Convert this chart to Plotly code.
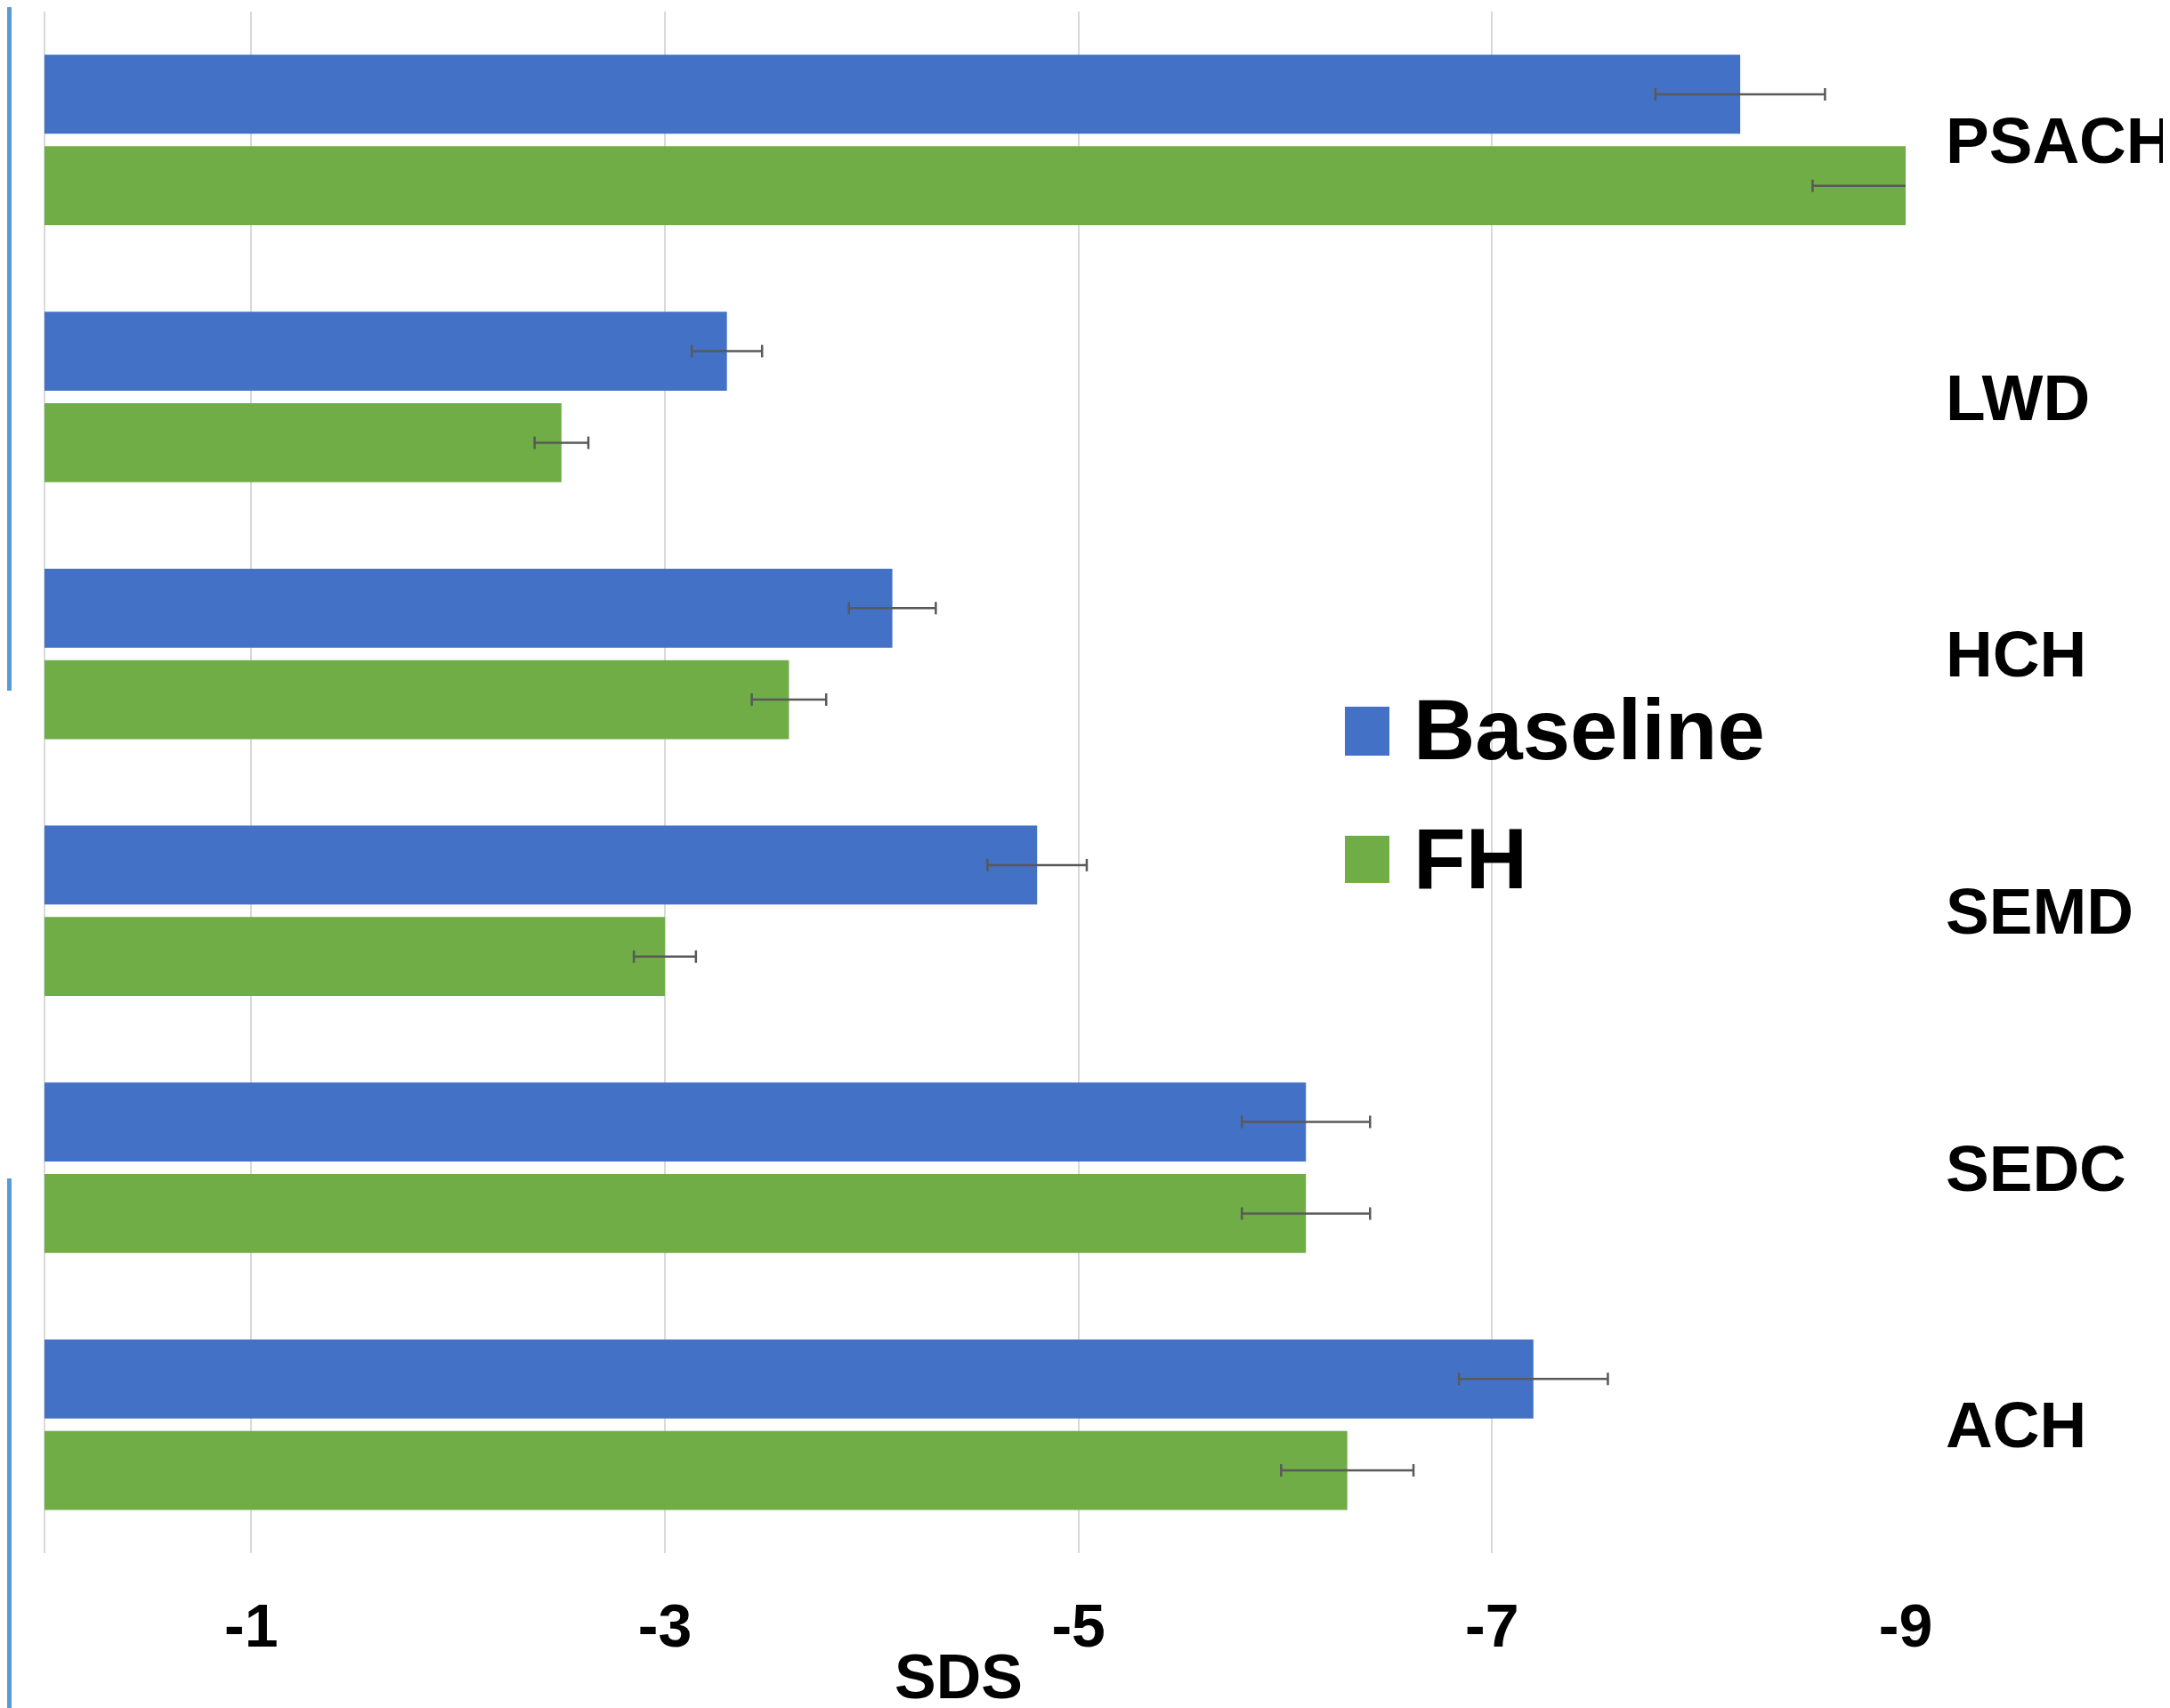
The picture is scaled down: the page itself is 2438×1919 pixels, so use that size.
import plotly.graph_objects as go

# ---- data ----
categories = ["PSACH", "LWD", "HCH", "SEMD", "SEDC", "ACH"]
series_names = ["Baseline", "FH"]
baseline = [-8.2, -3.3, -4.1, -4.8, -6.1, -7.2]
baseline_err = [0.41, 0.17, 0.21, 0.24, 0.31, 0.36]
fh = [-9.0, -2.5, -3.6, -3.0, -6.1, -6.3]
fh_err = [0.45, 0.13, 0.18, 0.15, 0.31, 0.32]
x_tickvals = [-1, -3, -5, -7, -9]
x_ticktext = ["-1", "-3", "-5", "-7", "-9"]

colors = ["#4371C6", "#70AD47"]
FONT = "Liberation Sans, Arial, sans-serif"

OFF = 8  # default page body margin
W, H = 2430, 1911
ML, MR, MT, MB = 42, 297, 5, 174
PW, PH = W - ML - MR, H - MT - MB

def px_x(p):
    return (p - OFF - ML) / PW

def px_y(p):
    return (H - MB - (p - OFF)) / PH

fig = go.Figure()
for name, vals, errs, col in zip(series_names, [baseline, fh], [baseline_err, fh_err], colors):
    fig.add_trace(go.Bar(
        y=categories, x=vals, orientation="h", name=name,
        marker=dict(color=col, line=dict(width=0)),
        error_x=dict(type="data", array=errs, visible=True,
                     color="#595959", thickness=2.5, width=7),
        showlegend=False,
    ))

fig.update_layout(
    width=W, height=H,
    margin=dict(l=ML, r=MR, t=MT, b=MB, autoexpand=False),
    paper_bgcolor="white", plot_bgcolor="white",
    barmode="group", bargap=0.288, bargroupgap=0.136,
    font=dict(family=FONT, color="black"),
)
fig.update_xaxes(
    range=[0, -9], tickvals=x_tickvals, ticktext=x_ticktext,
    showgrid=True, gridcolor="#d9d9d9", gridwidth=2,
    zeroline=True, zerolinecolor="#d9d9d9", zerolinewidth=2,
    showline=False, ticks="", ticklabelstandoff=36, automargin=False,
    tickfont=dict(family=FONT, size=68, weight="bold", color="black"),
)
fig.update_yaxes(
    autorange="reversed", side="right", showgrid=False, zeroline=False,
    showline=False, ticks="", ticklabelstandoff=44, automargin=False,
    tickfont=dict(family=FONT, size=73, weight="bold", color="black"),
)

# axis title
fig.add_annotation(
    text="SDS", xref="x", yref="paper", x=-4.42, y=px_y(1884),
    showarrow=False, xanchor="center", yanchor="middle",
    font=dict(family=FONT, size=70, weight="bold", color="black"),
)

# custom legend (large swatches)
legend_rows = [(794, 849, 819), (939, 992, 964)]
for (y0, y1, yc), name, col in zip(legend_rows, series_names, colors):
    fig.add_shape(type="rect", xref="paper", yref="paper",
                  x0=px_x(1511), x1=px_x(1561), y0=px_y(y1), y1=px_y(y0),
                  fillcolor=col, line=dict(width=0))
    fig.add_annotation(text=name, xref="paper", yref="paper",
                       x=px_x(1586), y=px_y(yc), showarrow=False,
                       xanchor="left", yanchor="middle",
                       font=dict(family=FONT, size=96, weight="bold", color="black"))

# cropped frame fragments at the left edge
fig.add_shape(type="rect", xref="paper", yref="paper",
              x0=px_x(-200), x1=px_x(9), y0=px_y(772), y1=px_y(-50),
              line=dict(color="#5B9BD5", width=8), fillcolor="rgba(0,0,0,0)")
fig.add_shape(type="rect", xref="paper", yref="paper",
              x0=px_x(-200), x1=px_x(2), y0=px_y(1244), y1=px_y(964),
              line=dict(color="#c4c4c4", width=4), fillcolor="rgba(0,0,0,0)")
fig.add_shape(type="rect", xref="paper", yref="paper",
              x0=px_x(-200), x1=px_x(9), y0=px_y(2000), y1=px_y(1328),
              line=dict(color="#5B9BD5", width=8), fillcolor="rgba(0,0,0,0)")

fig.write_html("out.html")
